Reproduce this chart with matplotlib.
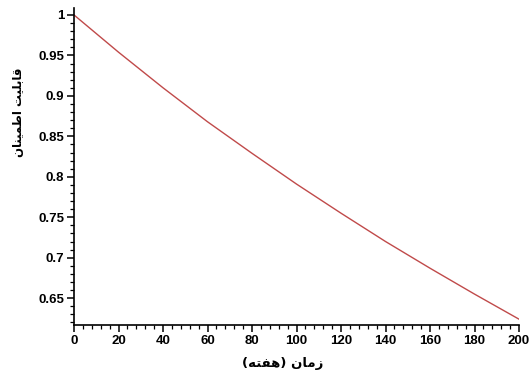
import numpy as np
import matplotlib
matplotlib.use("Agg")
import matplotlib.pyplot as plt
import matplotlib.ticker as ticker

# values
weeks = [0, 20, 40, 60, 80, 100, 120, 140, 160, 180, 200]
reliability = [1.0, 0.954, 0.910, 0.868, 0.829, 0.791, 0.755, 0.720, 0.687, 0.655, 0.624]

# Persian labels, shaped (presentation forms) in visual order
xlabel_txt = "(\uFEEA\uFE98\uFED4\uFEEB) \uFEE5\uFE8E\uFEE3\uFEAF"          # زمان (هفته)
ylabel_txt = ("\uFEE5\uFE8E\uFEE8\uFEF4\uFEE4\uFEC3\uFE8D "
              "\uFE96\uFEF4\uFEE0\uFE91\uFE8E\uFED7")                       # قابلیت اطمینان

W, H, DPI = 532, 375, 100
fig = plt.figure(figsize=(W / DPI, H / DPI), dpi=DPI)
ax = fig.add_axes([74 / W, 1 - 325 / H, (519 - 74) / W, (325 - 8) / H])

ax.plot(weeks, reliability, color="#c04a4a", lw=1.0)

ax.set_xlim(0, 200)
ax.set_ylim(0.6168, 1.0086)

ax.spines["top"].set_visible(False)
ax.spines["right"].set_visible(False)
for s in ("left", "bottom"):
    ax.spines[s].set_linewidth(1.2)
    ax.spines[s].set_color("black")

ax.xaxis.set_major_locator(ticker.MultipleLocator(20))
ax.xaxis.set_minor_locator(ticker.MultipleLocator(4))
ax.yaxis.set_major_locator(ticker.MultipleLocator(0.05))
ax.yaxis.set_minor_locator(ticker.MultipleLocator(0.01))
ax.yaxis.set_major_formatter(ticker.FuncFormatter(lambda v, p: ("%.2f" % v).rstrip("0").rstrip(".")))

ax.tick_params(which="major", direction="out", length=5, width=1.1, pad=2)
ax.tick_params(which="minor", direction="out", length=3, width=0.9)
for lab in ax.get_xticklabels() + ax.get_yticklabels():
    lab.set_fontfamily("Liberation Sans")
    lab.set_fontweight("bold")
    lab.set_fontsize(9.5)

fig.text(283 / W, 1 - 363 / H, xlabel_txt, ha="center", va="center",
         fontsize=9.5, fontweight="bold", family="DejaVu Sans")
fig.text(19 / W, 1 - 112 / H, ylabel_txt, ha="center", va="center", rotation=90,
         fontsize=8.5, fontweight="bold", family="DejaVu Sans")

fig.savefig("out.png", dpi=DPI)
